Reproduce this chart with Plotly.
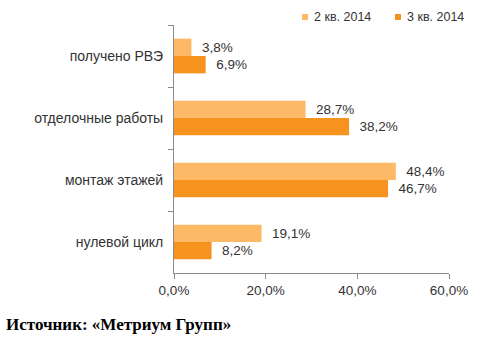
import plotly.graph_objects as go

categories = ["получено РВЭ", "отделочные работы", "монтаж этажей", "нулевой цикл"]
q2_2014 = [3.8, 28.7, 48.4, 19.1]
q3_2014 = [6.9, 38.2, 46.7, 8.2]
series_names = ["2 кв. 2014", "3 кв. 2014"]
x_ticks = [0, 20, 40, 60]
x_ticktext = ["0,0%", "20,0%", "40,0%", "60,0%"]

light = "#FDB966"
dark = "#F6921E"
colors = [light, dark]

# plot area in pixels
L, R, T, B = 174, 449, 25, 273
W, H = R - L, B - T
def px(x):
    return (x - L) / W
def py(y):
    return (B - y) / H

fig = go.Figure()
for name, vals, col in [(series_names[0], q2_2014, light), (series_names[1], q3_2014, dark)]:
    fig.add_trace(go.Bar(
        y=categories, x=vals, name=name, orientation="h",
        marker=dict(color=col, line=dict(width=0)),
        texttemplate="\u00a0\u00a0%{x:.1f}%", textposition="outside",
        textfont=dict(family="Liberation Sans, Arial", size=13.5, color="#333333"),
        cliponaxis=False, showlegend=False,
    ))

# legend drawn as small squares + text
legend_pos = [(302, 312), (395, 405)]
shapes = []
annotations = []
for (mx, tx), name, col in zip(legend_pos, series_names, colors):
    shapes.append(dict(type="rect", xref="paper", yref="paper",
                       x0=px(mx), x1=px(mx + 6), y0=py(20), y1=py(14),
                       fillcolor=col, line=dict(width=0)))
    annotations.append(dict(text=name, xref="paper", yref="paper", x=px(tx), y=py(17),
                            xanchor="left", yanchor="middle", showarrow=False,
                            font=dict(family="Liberation Sans, Arial", size=12.5, color="#333333")))

annotations.append(dict(text="<b>Источник: «Метриум Групп»</b>", xref="paper", yref="paper",
                        x=px(4), y=py(324), xanchor="left", yanchor="middle", showarrow=False,
                        font=dict(family="Liberation Serif, Times New Roman", size=17, color="black")))

fig.update_layout(
    width=500, height=338,
    margin=dict(l=L, r=500 - R, t=T, b=338 - B),
    paper_bgcolor="white", plot_bgcolor="white",
    barmode="group", bargap=0.44, bargroupgap=0,
    separators=", ",
    showlegend=False,
    font=dict(family="Liberation Sans, Arial", size=12, color="#333333"),
    xaxis=dict(range=[0, 60], tickvals=x_ticks, ticktext=x_ticktext,
               showgrid=False, zeroline=False, showline=True, linecolor="#8c8c8c",
               ticks="outside", tickcolor="#8c8c8c", ticklen=5,
               tickfont=dict(size=13.5, color="#333333")),
    yaxis=dict(autorange="reversed", showgrid=False, showline=True, linecolor="#8c8c8c",
               ticks="outside", tickson="boundaries", tickcolor="#8c8c8c", ticklen=5,
               tickfont=dict(size=14, color="#333333"), ticklabelstandoff=7),
    shapes=shapes,
    annotations=annotations,
)

fig.write_html("out.html")
